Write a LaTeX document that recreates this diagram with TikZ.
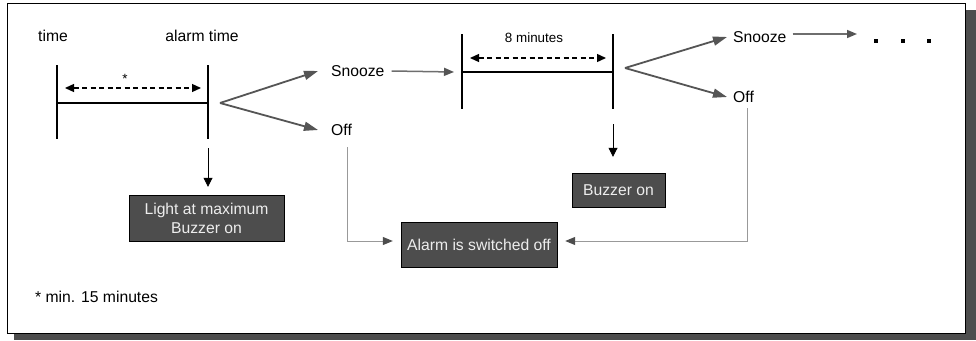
\documentclass[tikz,border=0pt]{standalone}
\usepackage{fontspec}
\setmainfont{Liberation Sans}
\usepackage{tikz}
\usetikzlibrary{arrows.meta,positioning,calc}
\definecolor{boxgray}{HTML}{4D4D4D}
\definecolor{splitgray}{HTML}{555555}
\definecolor{thingray}{HTML}{999999}
\begin{document}
\begin{tikzpicture}[x=1pt, y=-1pt,
    lbl/.style={inner sep=0pt, font=\fontsize{15.7}{19}\selectfont},
    smalllbl/.style={inner sep=0pt, font=\fontsize{13.4}{16}\selectfont},
    statebox/.style={draw=black, fill=boxgray, text=white!93!black, inner sep=0pt,
        align=center, font=\fontsize{15.7}{19}\selectfont},
    bar/.style={line width=2.6pt},
    span/.style={dash pattern=on 5pt off 3.5pt, line width=1.3pt, {Triangle[length=9pt,width=8pt]}-{Triangle[length=9pt,width=8pt]}},
    split/.style={splitgray, line width=1.8pt, -{Triangle[length=14pt,width=9pt]}},
    snzarrow/.style={splitgray!85!white, line width=1.5pt, -{Triangle[length=10pt,width=8pt,color=splitgray]}},
    offline/.style={thingray, line width=1pt, -{Triangle[length=10pt,width=8pt,color=boxgray]}},
    down/.style={black, line width=0.8pt, -{Triangle[length=9pt,width=9pt]}}]
    \useasboundingbox (0,0) rectangle (976,340);
    % frame with shadow
    \fill[boxgray] (14,10) rectangle (976,340);
    \draw[fill=white, line width=1pt] (7,3) rectangle (965,333);

    % first interval
    \coordinate (a0) at (57,103);
    \coordinate (a1) at (208,103);
    \draw[bar] (57,65) -- (57,139);
    \draw[bar] (208,65) -- (208,139);
    \draw[bar] (a0) -- (a1);
    \draw[span] (65,88) -- (201,88);
    \node[lbl] (time) at (53,36) {time};
    \node[lbl] (alarmtime) at (202,36) {alarm time};
    \node[smalllbl] (star) at (125,79) {*};

    % second interval
    \coordinate (b0) at (462,72);
    \coordinate (b1) at (613,72);
    \draw[bar] (462,34) -- (462,109);
    \draw[bar] (613,34) -- (613,109);
    \draw[bar] (b0) -- (b1);
    \draw[span] (470,58) -- (606,58);
    \node[smalllbl] (eightmin) at (534,38) {8 minutes};

    % choices
    \coordinate (split1) at (220,103);
    \coordinate (split2) at (625,68);
    \node[lbl, anchor=west] (snooze1) at (331,71) {Snooze};
    \node[lbl, anchor=west] (off1) at (331,130) {Off};
    \node[lbl, anchor=west] (snooze2) at (733,37) {Snooze};
    \node[lbl, anchor=west] (off2) at (733,97) {Off};
    \draw[split] (split1) -- ([xshift=-13pt]snooze1.west);
    \draw[split] (split1) -- ([xshift=-13pt]off1.west);
    \draw[split] (split2) -- ([xshift=-6pt]snooze2.west);
    \draw[split] (split2) -- ([xshift=-6pt]off2.west);

    % state boxes
    \node[statebox, minimum width=155pt, minimum height=46pt] (light) at (206.5,218) {Light at maximum\\Buzzer on};
    \node[statebox, minimum width=93pt, minimum height=34pt] (buzzer) at (618.5,190) {Buzzer on};
    \node[statebox, minimum width=156pt, minimum height=45pt] (alarmoff) at (479,244.5) {Alarm is switched off};

    \draw[down] (208,148) -- ([yshift=8pt]light.north -| 208,0);
    \draw[down] (613,124) -- ([yshift=16pt]buzzer.north -| 613,0);
    \draw[snzarrow] (snooze1.east) ++(7,0) -- ([xshift=-8pt]b0);
    \coordinate (more) at (857,34);
    \draw[snzarrow] (snooze2.east) ++(6,-3) -- (more);
    \foreach \x in {876,903,929}
        \fill (\x-2,39) rectangle (\x+2,43);
    \draw[offline] (347,147) |- ([xshift=-8pt,yshift=3.5pt]alarmoff.west);
    \draw[offline] (747,108) |- ([xshift=8pt,yshift=3.5pt]alarmoff.east);

    \node[lbl, anchor=west] (note) at (35,297) {* min. 15 minutes};
\end{tikzpicture}
\end{document}
